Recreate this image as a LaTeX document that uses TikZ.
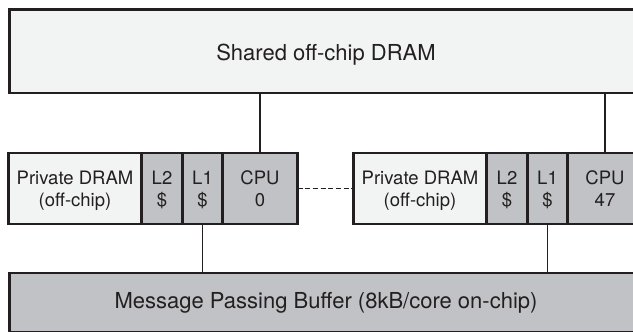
\documentclass[tikz,border=0pt]{standalone}
\usepackage{fontspec}
\setmainfont{TeX Gyre Heros}
\definecolor{ink}{HTML}{231F20}
\definecolor{paper}{HTML}{F2F3F3}
\definecolor{chip}{HTML}{C1C2C5}

\begin{document}
\begin{tikzpicture}[x=1pt, y=-1pt,
  box/.style={draw=ink, line width=2.2pt, inner sep=0pt, outer sep=0pt,
    anchor=north west},
  mem/.style={box, fill=paper},
  unit/.style={box, fill=chip},
  % two-line labels: the box runs from the cap top of line one to the
  % baseline of line two, so the caps sit centred in each cell
  coretext/.style={text=ink, align=center,
    font=\fontsize{18.5}{21.5}\selectfont, text height=35pt, text depth=0pt},
  bigtext/.style={text=ink, inner sep=0pt, anchor=base,
    font=\fontsize{22}{26}\selectfont},
  wire/.style={draw=ink, line width=1.8pt},
  link/.style={wire, dash pattern=on 5pt off 2.7pt}]

\useasboundingbox (0,0) rectangle (633,332);
\clip (0,0) rectangle (633,332);

% shared DRAM and message passing buffer
\node[mem, minimum width=633pt, minimum height=83.5pt] (shared) at (9.5,9.5) {};
\node[bigtext] (sharedtxt) at (326,60.7) {Shared off-chip DRAM};
\node[unit, minimum width=633pt, minimum height=59.5pt] (mpb) at (9.5,273) {};
\node[bigtext] (mpbtxt) at (326,308) {Message Passing Buffer (8kB/core on-chip)};

% core 0
\node[mem,  minimum width=133pt, minimum height=71pt, coretext] (pd0) at (8.5,153) {Private DRAM\\(off-chip)};
\node[unit, minimum width=41pt,  minimum height=71pt, coretext] (l2a) at (141.5,153) {L2\\\$};
\node[unit, minimum width=40pt,  minimum height=71pt, coretext] (l1a) at (182.5,153) {L1\\\$};
\node[unit, minimum width=75pt,  minimum height=71pt, coretext] (cpu0) at (222.5,153) {CPU\\0};

% core 47
\node[mem,  minimum width=133pt, minimum height=71pt, coretext] (pd47) at (353.5,153) {Private DRAM\\(off-chip)};
\node[unit, minimum width=41pt,  minimum height=71pt, coretext] (l2b) at (486.5,153) {L2\\\$};
\node[unit, minimum width=40pt,  minimum height=71pt, coretext] (l1b) at (527.5,153) {L1\\\$};
\node[unit, minimum width=75pt,  minimum height=71pt, coretext] (cpu47) at (567.5,153) {CPU\\47};

% connections
\draw[wire] (cpu0.north) -- (cpu0.north |- shared.south);
\draw[wire] (cpu47.north) -- (cpu47.north |- shared.south);
\draw[wire] (l1a.south) -- (l1a.south |- mpb.north);
\draw[wire] (l1b.south) -- (l1b.south |- mpb.north);
\draw[link] (cpu0.east) -- (pd47.west);
\end{tikzpicture}
\end{document}
